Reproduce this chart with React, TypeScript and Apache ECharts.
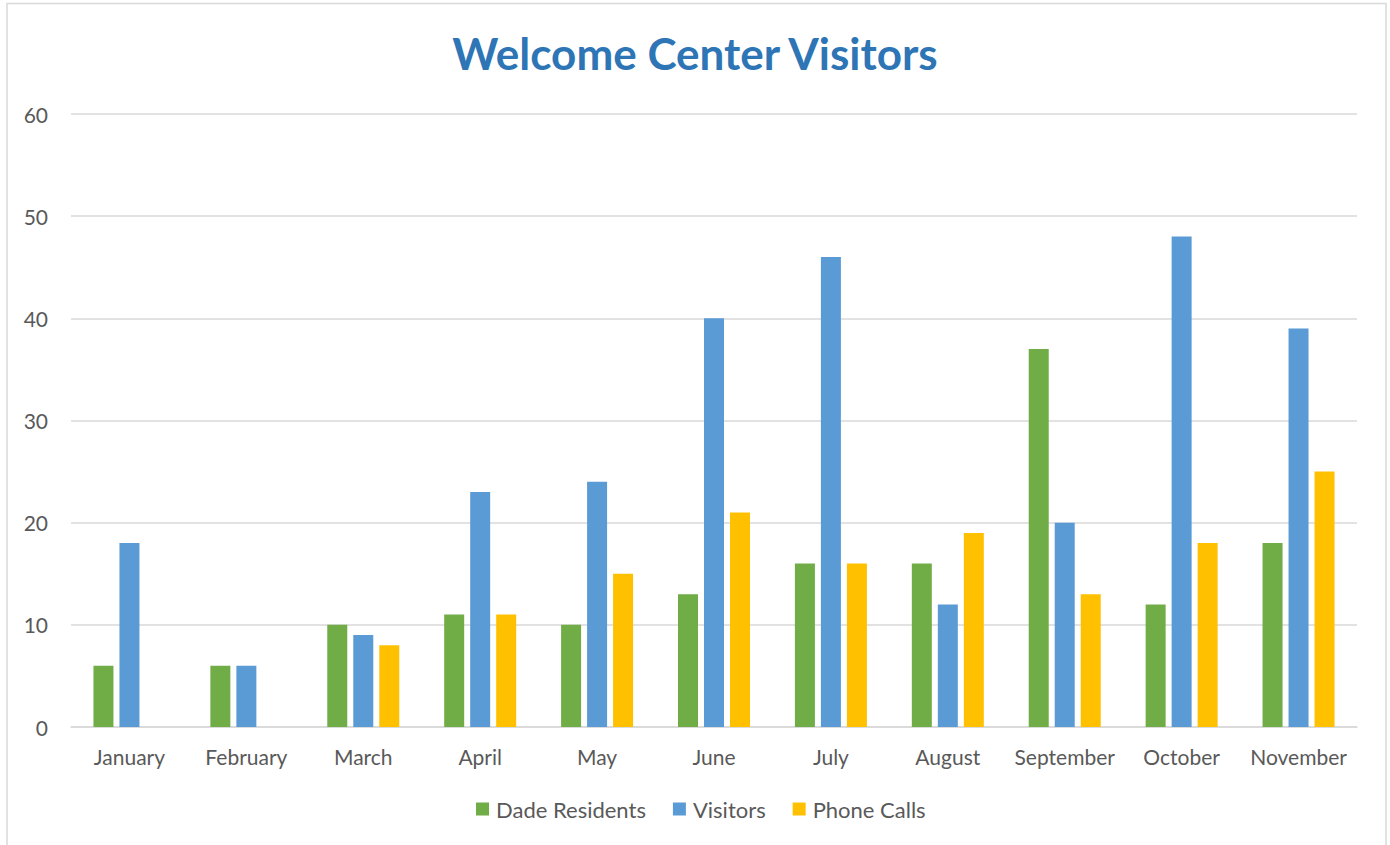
import React, { useEffect, useRef } from "react";
import * as echarts from "echarts";

const months = ["January", "February", "March", "April", "May", "June", "July", "August", "September", "October", "November"];
const dadeResidents = [6, 6, 10, 11, 10, 13, 16, 16, 37, 12, 18];
const visitors = [18, 6, 9, 23, 24, 40, 46, 12, 20, 48, 39];
const phoneCalls = [null, null, 8, 11, 15, 21, 16, 19, 13, 18, 25];
const seriesNames = ["Dade Residents", "Visitors", "Phone Calls"];
const colors = ["#70AD47", "#5B9BD5", "#FFC000"];
const font = "Lato, 'Open Sans', sans-serif";

export default function App() {
  const ref = useRef<HTMLDivElement>(null);
  useEffect(() => {
    document.body.style.margin = "0";
    const chart = echarts.init(ref.current!, null, { renderer: "svg" });
    const data = [dadeResidents, visitors, phoneCalls];
    chart.setOption({
      animation: false,
      backgroundColor: "#ffffff",
      textStyle: { fontFamily: font },
      title: {
        text: "Welcome Center Visitors",
        left: "center",
        top: 26,
        textStyle: { color: "#2E75B6", fontSize: 44, fontWeight: "bold", fontFamily: font },
      },
      graphic: [
        {
          type: "rect",
          shape: { x: 7, y: 3.5, width: 1379, height: 860 },
          style: { fill: "none", stroke: "#D9D9D9", lineWidth: 1.5 },
          silent: true,
        },
      ],
      legend: {
        bottom: 20,
        left: 471,
        itemWidth: 13,
        itemHeight: 13,
        itemGap: 27,
        icon: "rect",
        textStyle: { color: "#595959", fontSize: 22, fontFamily: font, padding: [0, 0, 0, 2] },
        data: seriesNames,
      },
      grid: { left: 71, right: 33, top: 114, bottom: 118, containLabel: false },
      xAxis: {
        type: "category",
        data: months,
        axisLine: { lineStyle: { color: "#D9D9D9", width: 1.5 } },
        axisTick: { show: false },
        axisLabel: { color: "#595959", fontSize: 21, margin: 19, interval: 0, fontFamily: font },
      },
      yAxis: {
        type: "value",
        min: 0,
        max: 60,
        interval: 10,
        axisLine: { show: false },
        axisTick: { show: false },
        axisLabel: { color: "#595959", fontSize: 21, margin: 23, fontFamily: font },
        splitLine: { lineStyle: { color: "#D9D9D9", width: 1.5 } },
      },
      series: seriesNames.map((name, i) => ({
        name,
        type: "bar",
        data: data[i],
        barWidth: 20,
        barGap: "30%",
        itemStyle: { color: colors[i] },
      })),
    });
    return () => chart.dispose();
  }, []);
  return <div ref={ref} style={{ width: 1390, height: 845 }} />;
}
